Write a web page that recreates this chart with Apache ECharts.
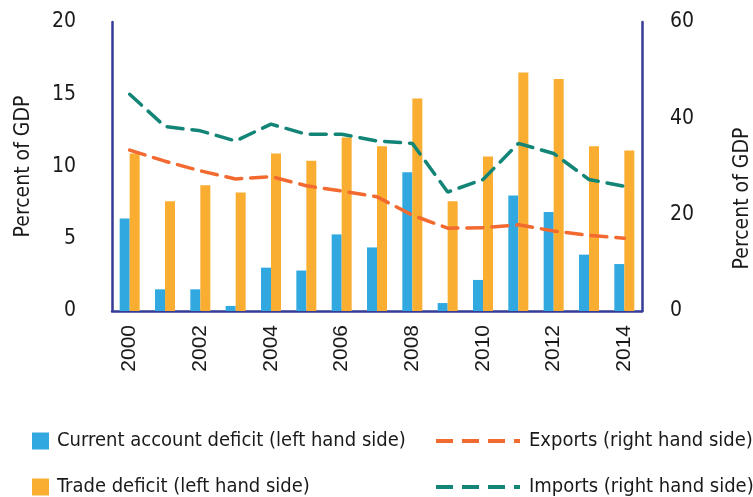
<!DOCTYPE html>
<html>
<head>
<meta charset="utf-8">
<script src="https://cdn.jsdelivr.net/npm/echarts@6/dist/echarts.min.js"></script>
<style>
  html, body { margin: 0; padding: 0; background: #fff; }
  #chart { width: 753px; height: 497px; }
</style>
</head>
<body>
<div id="chart"></div>
<script>
const YEARS = ["2000", "2001", "2002", "2003", "2004", "2005", "2006", "2007",
  "2008", "2009", "2010", "2011", "2012", "2013", "2014"];
const CURRENT_ACCOUNT = [6.4, 1.5, 1.5, 0.35, 3.0, 2.8, 5.3, 4.4, 9.6, 0.55, 2.15, 8.0, 6.85, 3.9, 3.25];
const TRADE = [10.9, 7.6, 8.7, 8.2, 10.9, 10.4, 12.0, 11.4, 14.7, 7.6, 10.7, 16.5, 16.05, 11.4, 11.1];
const EXPORTS = [33.4, 31.1, 29.1, 27.4, 27.9, 26.0, 24.9, 23.7, 19.9, 17.2, 17.3, 17.9, 16.6, 15.7, 15.1];
const IMPORTS = [45.0, 38.3, 37.4, 35.3, 38.8, 36.7, 36.7, 35.3, 34.8, 24.7, 27.3, 34.8, 32.7, 27.3, 25.9];

const FONT = "'DejaVu Sans Condensed', 'Liberation Sans Narrow', sans-serif";
const YEAR_FONT = "'Liberation Sans', Arial, sans-serif";
const AXIS_COLOR = "#353C96";
const TEXT_COLOR = "#1a1a1a";
const DASH = [16, 9];

const NAMES = {
  ca: "Current account deficit (left hand side)",
  trade: "Trade deficit (left hand side)",
  exp: "Exports (right hand side)",
  imp: "Imports (right hand side)"
};

function legendAt(name, left, top, opts) {
  return Object.assign({
    data: [name],
    left: left,
    top: top,
    selectedMode: false,
    padding: 0
  }, opts);
}

const squareLegend = {
  icon: "rect",
  itemWidth: 17,
  itemHeight: 17,
  textStyle: { fontFamily: FONT, fontSize: 20, color: TEXT_COLOR, padding: [0, 0, 0, 3] }
};

const lineLegend = {
  itemWidth: 84,
  itemHeight: 17,
  itemStyle: { opacity: 0 },
  lineStyle: { width: 4, type: [17, 9], cap: "butt" },
  textStyle: { fontFamily: FONT, fontSize: 20, color: TEXT_COLOR, padding: [0, 0, 0, 4] }
};

const chart = echarts.init(document.getElementById("chart"), null, { renderer: "canvas" });

chart.setOption({
  animation: false,
  grid: { left: 112, right: 111, top: 22, bottom: 186, containLabel: false, outerBoundsMode: "none" },
  legend: [
    legendAt(NAMES.ca, 32, 431, squareLegend),
    legendAt(NAMES.trade, 32, 477, squareLegend),
    legendAt(NAMES.exp, 434, 431, lineLegend),
    legendAt(NAMES.imp, 434, 477, lineLegend)
  ],
  xAxis: {
    type: "category",
    data: YEARS,
    axisLine: { lineStyle: { color: AXIS_COLOR, width: 2.5 } },
    axisTick: { show: false },
    axisLabel: {
      interval: 1,
      rotate: 90,
      margin: 14,
      fontFamily: YEAR_FONT,
      fontSize: 21,
      color: TEXT_COLOR
    }
  },
  yAxis: [
    {
      type: "value",
      min: 0,
      max: 20,
      interval: 5,
      name: "Percent of GDP",
      nameLocation: "middle",
      nameRotate: 90,
      nameGap: 78,
      nameTextStyle: { fontFamily: FONT, fontSize: 21, color: TEXT_COLOR },
      axisLine: { show: true, lineStyle: { color: AXIS_COLOR, width: 2.5 } },
      axisTick: { show: false },
      splitLine: { show: false },
      axisLabel: { margin: 36, fontFamily: FONT, fontSize: 21, color: TEXT_COLOR }
    },
    {
      type: "value",
      min: 0,
      max: 60,
      interval: 20,
      position: "right",
      name: "Percent of GDP",
      nameLocation: "middle",
      nameRotate: 90,
      nameGap: 90,
      nameTextStyle: { fontFamily: FONT, fontSize: 21, color: TEXT_COLOR, padding: [0, 64, 0, 0] },
      axisLine: { show: true, lineStyle: { color: AXIS_COLOR, width: 2.5 } },
      axisTick: { show: false },
      splitLine: { show: false },
      axisLabel: { margin: 28, fontFamily: FONT, fontSize: 21, color: TEXT_COLOR }
    }
  ],
  series: [
    {
      name: NAMES.ca,
      type: "bar",
      data: CURRENT_ACCOUNT,
      barWidth: 10,
      barGap: "0%",
      itemStyle: { color: "#31A9E0" }
    },
    {
      name: NAMES.trade,
      type: "bar",
      data: TRADE,
      barWidth: 10,
      barGap: "0%",
      itemStyle: { color: "#F9AE31" }
    },
    {
      name: NAMES.exp,
      type: "line",
      yAxisIndex: 1,
      data: EXPORTS,
      symbol: "none",
      itemStyle: { color: "#F26A30" },
      lineStyle: { color: "#F26A30", width: 3.5, type: DASH, cap: "round" }
    },
    {
      name: NAMES.imp,
      type: "line",
      yAxisIndex: 1,
      data: IMPORTS,
      symbol: "none",
      itemStyle: { color: "#138577" },
      lineStyle: { color: "#138577", width: 3.5, type: DASH, cap: "round" }
    }
  ]
});
</script>
</body>
</html>
